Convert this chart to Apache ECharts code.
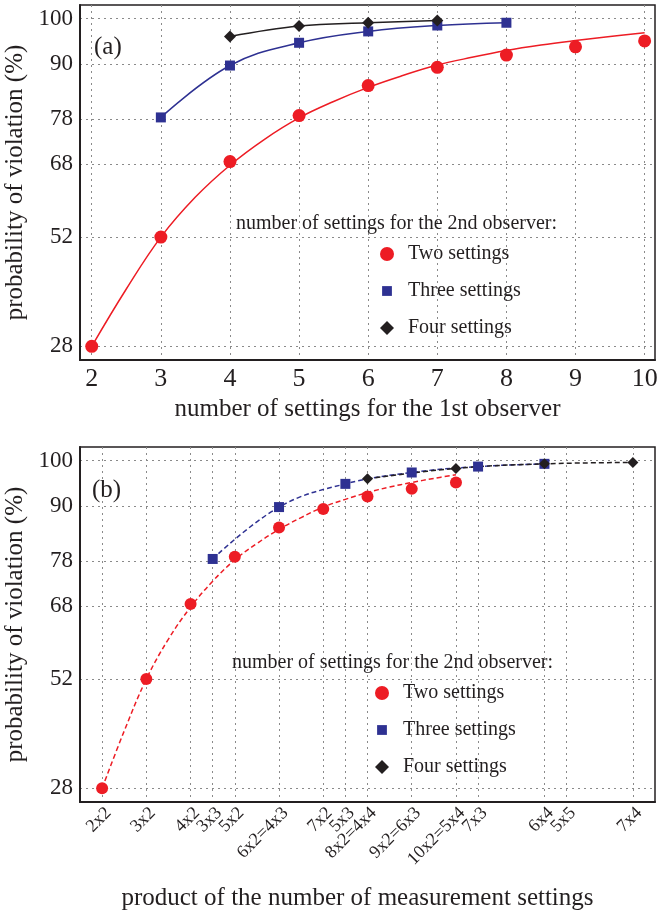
<!DOCTYPE html>
<html lang="en">
<head>
  <meta charset="UTF-8">
  <title>probability of violation</title>
  <script src="https://cdn.jsdelivr.net/npm/echarts@6.0.0/dist/echarts.min.js"></script>
  <style>
    html, body { margin: 0; padding: 0; background: #fff; }
    #chart { width: 659px; height: 913px; }
  </style>
</head>
<body>
  <div id="chart"></div>
  <script>
    // y ticks, same for both panels
    var yTicks = [28, 52, 68, 78, 90, 100];

    // (a) number of settings for the 1st observer
    var xTicksA = [2, 3, 4, 5, 6, 7, 8, 9, 10];
    var twoPtsA = [[2, 28], [3, 52], [4, 68.6], [5, 78.7], [6, 85.3], [7, 89.3], [8, 92.0], [9, 93.8], [10, 95.1]];
    var twoFitA = [[2, 28], [2.5, 40.6], [3, 52], [3.5, 60.8], [4, 67.8], [4.5, 73.5], [5, 78.2], [5.5, 81.8], [6, 84.9],
      [6.5, 87.5], [7, 89.8], [7.5, 91.5], [8, 93.0], [8.5, 94.2], [9, 95.2], [9.5, 96.1], [10, 96.9]];
    var threePtsA = [[3, 78.3], [4, 89.7], [5, 94.7], [6, 97.2], [7, 98.5], [8, 99.1]];
    var fourPtsA = [[4, 96.1], [5, 98.4], [6, 99.1], [7, 99.6]];

    // (b) product of the number of measurement settings
    var xTicksB = [4, 6, 8, 9, 10, 12, 14, 15, 16, 18, 20, 21, 24, 25, 28];
    var xLabelsB = ['2x2', '3x2', '4x2', '3x3', '5x2', '6x2=4x3', '7x2', '5x3', '8x2=4x4', '9x2=6x3',
      '10x2=5x4', '7x3', '6x4', '5x5', '7x4'];
    var twoPtsB = [[4, 28], [6, 52], [8, 68.5], [10, 78.9], [12, 85.3], [14, 89.4], [16, 92.1], [18, 93.8], [20, 95.2]];
    var twoFitB = [[4, 28], [5, 40.6], [6, 52], [7, 60.8], [8, 67.8], [9, 73.5], [10, 78.2], [11, 81.8], [12, 84.9],
      [13, 87.5], [14, 89.8], [15, 91.5], [16, 93.0], [17, 94.2], [18, 95.2], [19, 96.1], [20, 96.9]];
    var threePtsB = [[9, 78.4], [12, 89.8], [15, 94.9], [18, 97.4], [21, 98.7], [24, 99.3]];
    var fourPtsB = [[16, 96.0], [20, 98.3], [24, 99.3], [28, 99.6]];

    var font = '"Liberation Serif", "DejaVu Serif", serif';
    var ink = '#231f20';
    var red = '#ed1c24';
    var blue = '#2e3192';
    var black = '#231f20';

    var myChart = echarts.init(document.getElementById('chart'));

    var gridLine = { show: true, lineStyle: { color: '#8a8a8a', width: 1, type: [2, 4] } };

    function yAxis(idx) {
      return {
        type: 'value', gridIndex: idx, min: 25, max: 103,
        name: 'probability of violation (%)', nameLocation: 'middle', nameGap: 46,
        nameTextStyle: { fontFamily: font, fontSize: 25, color: ink },
        axisLine: { show: true, lineStyle: { color: ink, width: 2 } },
        axisTick: { show: false, customValues: yTicks },
        axisLabel: { customValues: yTicks, fontFamily: font, fontSize: 23, color: ink, margin: 7 },
        splitLine: gridLine
      };
    }

    function lineSeries(name, data, color, x, dashed) {
      return {
        name: name, type: 'line', xAxisIndex: x, yAxisIndex: x, data: data,
        smooth: 0.4, showSymbol: false, silent: true, z: 2,
        lineStyle: { color: color, width: 1.5, type: dashed ? [5, 3] : 'solid' }
      };
    }

    function dotSeries(name, data, color, symbol, size, x) {
      return {
        name: name, type: 'scatter', xAxisIndex: x, yAxisIndex: x, data: data,
        symbol: symbol, symbolSize: size, z: 3,
        itemStyle: { color: color, opacity: 1 }
      };
    }

    // small square for the legend: the extra moveTo points pad the box
    var smallSquare = 'path://M0,0M20,20M3,3L17,3L17,17L3,17Z';

    function legend(left, top) {
      return {
        orient: 'vertical', left: left, top: top, itemGap: 17, itemWidth: 14, itemHeight: 14,
        selectedMode: false,
        textStyle: { fontFamily: font, fontSize: 20, color: ink, padding: [0, 0, 0, 9] },
        data: [
          { name: 'Two settings', icon: 'circle' },
          { name: 'Three settings', icon: smallSquare },
          { name: 'Four settings', icon: 'diamond' }
        ]
      };
    }

    var labelText = { fontFamily: font, fontSize: 20, fontWeight: 'normal', color: ink };
    var panelText = { fontFamily: font, fontSize: 25, fontWeight: 'normal', color: ink };

    var option = {
      backgroundColor: '#fff',
      animation: false,
      title: [
        { text: '(a)', left: 94, top: 35, padding: 0, textStyle: panelText },
        { text: '(b)', left: 92, top: 478, padding: 0, textStyle: panelText },
        { text: 'number of settings for the 2nd observer:', left: 236, top: 214, padding: 0, textStyle: labelText },
        { text: 'number of settings for the 2nd observer:', left: 232, top: 653, padding: 0, textStyle: labelText }
      ],
      legend: [legend(375, 239), legend(370, 678)],
      grid: [
        { left: 80, top: 5, width: 575, height: 355, show: true, borderColor: ink, borderWidth: 1.5, outerBoundsMode: 'none' },
        { left: 80, top: 447, width: 575, height: 355, show: true, borderColor: ink, borderWidth: 1.5, outerBoundsMode: 'none' }
      ],
      xAxis: [
        {
          type: 'value', gridIndex: 0, min: 1.83, max: 10.15,
          name: 'number of settings for the 1st observer', nameLocation: 'middle', nameGap: 37,
          nameTextStyle: { fontFamily: font, fontSize: 25, color: ink },
          axisLine: { show: true, lineStyle: { color: ink, width: 2 } },
          axisTick: { show: false, customValues: xTicksA },
          axisLabel: { customValues: xTicksA, fontFamily: font, fontSize: 26, color: ink, margin: 6 },
          splitLine: gridLine
        },
        {
          type: 'value', gridIndex: 1, min: 3, max: 29,
          name: 'product of the number of measurement settings', nameLocation: 'middle', nameGap: 84,
          nameTextStyle: { fontFamily: font, fontSize: 25, color: ink, padding: [0, 20, 0, 0] },
          axisLine: { show: true, lineStyle: { color: ink, width: 2 } },
          axisTick: { show: false, customValues: xTicksB },
          axisLabel: {
            customValues: xTicksB, rotate: 45, fontFamily: font, fontSize: 18, color: ink, margin: 2,
            align: 'right', verticalAlign: 'top',
            formatter: function (v) {
              var i = xTicksB.indexOf(v);
              return i < 0 ? '' : xLabelsB[i];
            }
          },
          splitLine: gridLine
        }
      ],
      yAxis: [yAxis(0), yAxis(1)],
      series: [
        lineSeries('fit two a', twoFitA, red, 0, false),
        lineSeries('fit three a', threePtsA, blue, 0, false),
        lineSeries('fit four a', fourPtsA, black, 0, false),
        dotSeries('Two settings', twoPtsA, red, 'circle', 13, 0),
        dotSeries('Three settings', threePtsA, blue, 'rect', 10, 0),
        dotSeries('Four settings', fourPtsA, black, 'diamond', 12, 0),

        lineSeries('fit two b', twoFitB, red, 1, true),
        lineSeries('fit three b', threePtsB, blue, 1, true),
        lineSeries('fit four b', fourPtsB, black, 1, true),
        dotSeries('Two settings', twoPtsB, red, 'circle', 12, 1),
        dotSeries('Three settings', threePtsB, blue, 'rect', 10, 1),
        dotSeries('Four settings', fourPtsB, black, 'diamond', 11, 1)
      ]
    };

    myChart.setOption(option);
  </script>
</body>
</html>
